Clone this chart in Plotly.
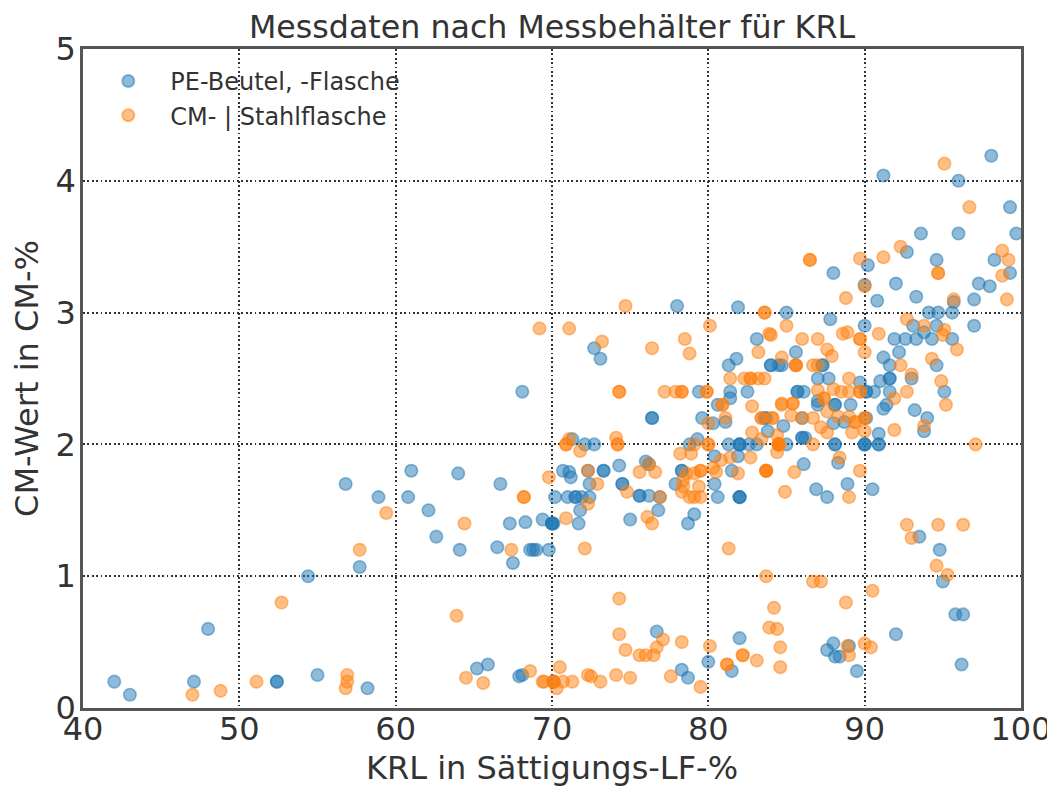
import plotly.graph_objects as go

FONT = "DejaVu Sans, sans-serif"
INK = "#333333"

# PE-Beutel, -Flasche
blue_x = [
    42, 43, 47.1, 48, 52.4, 52.4, 54.4, 55, 56.8, 57.7, 58.2, 58.9, 60.8, 61, 62.1, 62.6, 64, 64.1,
    65.2, 65.9, 66.5, 66.7, 67.3, 67.5, 67.9, 68.1, 68.1, 68.3, 68.6, 68.8, 69, 69.4, 69.8, 70, 70.1,
    78, 81.9, 72.7, 73.1, 83.1, 81.8, 81.3, 84, 84.5, 81.4, 82.5, 79.4, 81.4, 80.6,
    76.4, 76.4, 79.6, 80.3, 81.1, 83.7, 71.3, 72.1, 72.7, 78.8, 79.3, 81.3, 82, 82, 82, 82.6, 83.1,
    80.4, 81.9, 74.3, 76, 76.2, 70.7, 71.1, 71.2, 73.3, 73.3, 72.3, 78.3, 78.3, 81.5,
    74.5, 74.5, 72.4, 77.9, 80.4, 70.2, 71, 71.5, 71.5, 71.9, 72.4, 75.6, 75.6, 76.2, 76.9, 80.6, 82, 82, 82,
    71.8, 76.8, 75, 71.7, 79.1, 78.7, 70, 70,
    98.1, 91.2, 96, 99.3, 93.6, 96, 99.7, 92.7, 94.6, 98.3, 90.2, 88, 99.3, 92, 97.3, 98, 90,
    93.3, 90.8, 97, 95.7, 85, 94.1, 94.7, 95.6, 87.8, 93.1, 94.6, 97, 90,
    91.9, 92.6, 93.3, 94.3, 95.6, 93.8, 85.6, 92.2, 91.2, 84, 84.7, 87.3, 87.3, 91.6, 94.6,
    87, 87.7, 89.7, 91, 91.6, 91.6, 93, 95.1, 85.7, 85.7, 86.1, 87, 87, 88.1, 88.1, 89.1, 90.1, 90.1, 90.6,
    91.6, 91.4, 91.2, 93.2, 94, 93.8, 83.6, 84.8, 83.8, 86, 88, 88.7, 90.1, 90.9, 86, 86, 86.2, 85,
    88.1, 88.1, 90, 90, 90, 90.9, 90.9, 88.3, 86.1, 88.9, 86.9, 87.6, 90.5, 93.5, 94.8,
    76.7, 78.3, 78.7, 80, 81.5, 82, 70.1, 88, 87.6, 88.1, 88.4, 89, 89.5, 92, 95.8, 96.3, 96.2, 95,
]
blue_y = [
    0.2, 0.1, 0.2, 0.6, 0.2, 0.2, 1.0, 0.25, 1.7, 1.07, 0.15, 1.6, 1.6, 1.8, 1.5, 1.3, 1.78, 1.2,
    0.3, 0.33, 1.22, 1.7, 1.4, 1.1, 0.24, 0.25, 2.4, 1.41, 1.2, 1.2, 1.2, 1.43, 1.2, 1.4, 1.4,
    3.05, 3.04, 2.73, 2.65, 2.8, 2.65, 2.6, 2.6, 2.6, 2.4, 2.4, 2.4, 2.35, 2.3,
    2.2, 2.2, 2.2, 2.16, 2.17, 2.2, 2.04, 2, 2, 2, 2.04, 2, 2, 2, 2, 2, 2,
    1.91, 1.91, 1.84, 1.87, 1.85, 1.8, 1.79, 1.75, 1.8, 1.8, 1.8, 1.8, 1.8, 1.8,
    1.7, 1.7, 1.7, 1.7, 1.7, 1.6, 1.6, 1.6, 1.6, 1.6, 1.6, 1.61, 1.61, 1.61, 1.6, 1.6, 1.6, 1.6, 1.6,
    1.5, 1.5, 1.43, 1.4, 1.47, 1.4, 1.4, 1.4,
    4.19, 4.04, 4, 3.8, 3.6, 3.6, 3.6, 3.46, 3.4, 3.4, 3.36, 3.3, 3.3, 3.22, 3.22, 3.2, 3.21,
    3.12, 3.09, 3.1, 3.08, 3, 3, 3, 3, 2.95, 2.9, 2.9, 2.9, 2.9,
    2.8, 2.8, 2.8, 2.8, 2.8, 2.85, 2.7, 2.7, 2.66, 2.6, 2.6, 2.6, 2.6, 2.6, 2.6,
    2.5, 2.5, 2.47, 2.48, 2.5, 2.5, 2.5, 2.4, 2.4, 2.4, 2.4, 2.33, 2.3, 2.3, 2.3, 2.3, 2.4, 2.4, 2.4,
    2.4, 2.3, 2.27, 2.26, 2.2, 2.1, 2.2, 2.14, 2.1, 2.2, 2.16, 2.17, 2.2, 2.08, 2.05, 2.05, 2.05, 2,
    2, 2, 2, 2, 2, 2, 2, 1.86, 1.85, 1.7, 1.66, 1.6, 1.66, 1.3, 1.2,
    0.58, 0.29, 0.23, 0.35, 0.28, 0.53, 0.2, 0.49, 0.44, 0.39, 0.39, 0.47, 0.28, 0.56, 0.71, 0.71, 0.33, 0.96,
]

# CM- | Stahlflasche
orange_x = [
    47, 48.8, 51.1, 52.7, 56.9, 56.9, 56.8, 57.7, 59.4, 63.9, 64.4, 64.5, 65.6, 67.4, 68.2, 68.2, 68.6, 69.2, 69.5, 69.8,
    74.7, 71.1, 73.2, 76.4, 78.5, 78.8, 80.1, 83.6, 84, 83.2, 81.4, 82.3, 82.7, 82.7, 83.2, 83.6,
    74.3, 74.3, 77.2, 77.9, 78.3, 78.3, 79.9, 79.9, 80.9, 80.9, 82.8, 84.7, 81.1, 80, 82.8, 84.1, 84.1, 83.4,
    71.1, 70.9, 70.9, 71.8, 74.1, 74.2, 74.2, 79.1, 80, 80, 84.5, 84.5, 84.5, 78.2, 78.9, 82.7, 81.4, 80.8,
    76.2, 75.6, 76.6, 72.3, 72.9, 79.5, 79.5, 80.3, 80.5, 81.9, 83.7, 83.7,
    78.6, 79.1, 78.4, 78.3, 78.8, 79.5, 79.1, 79.4, 78.4, 74.8, 72.3, 76.9, 76.1, 76.4, 70.9,
    95.1, 96.7, 92.3, 98.8, 99.2, 91.2, 89.7, 86.5, 86.5, 94.7, 94.7, 98.8, 90, 88.8, 95.7, 99.1,
    83.6, 85, 83.9, 92.7, 93.8, 95.1, 95, 86, 87, 88.6, 88.9, 89.7, 89.7, 90.9, 87.6, 87.9, 90, 95.9,
    84.7, 85.6, 85.6, 85.6, 86.7, 87, 92.3, 94.3,
    89, 93, 94.9, 87, 88, 88.5, 89, 89.7, 89.7, 92.7, 91.9, 95.2, 84.7, 85.4, 85.4, 87.4, 87.4, 87.6,
    83.4, 83.4, 85.3, 86, 86.7, 88.3, 89, 89.4, 89.4, 90, 90, 87.2, 87.6, 89.2, 90, 91.9, 93.8,
    84.4, 84.5, 84.5, 84.5, 84.4, 86.7, 88.4, 85.5, 83.7, 83.7, 89.7, 84.9, 89, 92.7, 94.7, 96.3, 93, 97.1,
    72.1, 81.3, 83.7, 86.7, 87.2, 94.6, 95.3, 90.5, 88.8, 74.3, 74.3, 84.2, 83.9, 84.4, 84.6, 84.6,
    77.1, 78.3, 76.7, 74.7, 75.6, 76, 76.5, 80.1, 82.2, 82.2, 83.1, 81.2, 90, 90.4, 89, 88.9,
    70.5, 69.4, 70.1, 70.1, 70.1, 70.3, 70.7, 71.3, 72.3, 72.5, 73.1, 74.1, 75, 77.6, 79.5, 81.2,
]
orange_y = [
    0.1, 0.13, 0.2, 0.8, 0.25, 0.2, 0.15, 1.2, 1.48, 0.7, 1.4, 0.23, 0.19, 1.2, 1.6, 1.6, 0.28, 2.88, 0.2, 1.75,
    3.05, 2.88, 2.78, 2.73, 2.8, 2.69, 2.9, 3, 2.83, 2.7, 2.5, 2.5, 2.5, 2.5, 2.5, 2.5,
    2.4, 2.4, 2.4, 2.4, 2.4, 2.4, 2.4, 2.4, 2.3, 2.3, 2.29, 2.3, 2.2, 2.16, 2.09, 2.2, 2.2, 2.04,
    2.04, 2, 2, 1.95, 2.05, 2, 2, 2, 2, 2, 2, 2, 2, 1.93, 1.93, 1.9, 1.9, 1.88,
    1.85, 1.79, 1.79, 1.8, 1.7, 1.8, 1.8, 1.82, 1.79, 1.78, 1.8, 1.8,
    1.78, 1.78, 1.73, 1.64, 1.6, 1.6, 1.6, 1.68, 1.68, 1.64, 1.55, 1.6, 1.45, 1.4, 1.44,
    4.13, 3.8, 3.5, 3.47, 3.4, 3.42, 3.41, 3.4, 3.4, 3.3, 3.3, 3.28, 3.2, 3.11, 3.1, 3.1,
    3, 2.9, 2.84, 2.95, 2.9, 2.87, 2.83, 2.8, 2.8, 2.84, 2.85, 2.8, 2.8, 2.84, 2.72, 2.67, 2.7, 2.72,
    2.66, 2.6, 2.6, 2.6, 2.6, 2.6, 2.6, 2.65,
    2.5, 2.53, 2.48, 2.41, 2.42, 2.4, 2.4, 2.4, 2.4, 2.4, 2.35, 2.3, 2.31, 2.31, 2.31, 2.35, 2.35, 2.25,
    2.2, 2.2, 2.22, 2.2, 2.2, 2.21, 2.21, 2.17, 2.17, 2.2, 2.2, 2.13, 2.09, 2.09, 2.1, 2.11, 2.14,
    2.07, 2, 2, 2, 1.94, 2, 1.9, 1.79, 1.8, 1.8, 1.8, 1.64, 1.6, 1.39, 1.39, 1.39, 1.29, 2,
    1.21, 1.21, 1, 0.96, 0.96, 1.08, 1.01, 0.89, 0.8, 0.83, 0.56, 0.76, 0.61, 0.6, 0.46, 0.31,
    0.52, 0.5, 0.46, 0.44, 0.4, 0.4, 0.4, 0.47, 0.4, 0.4, 0.36, 0.33, 0.49, 0.46, 0.4, 0.47,
    0.31, 0.2, 0.2, 0.2, 0.2, 0.15, 0.2, 0.2, 0.25, 0.24, 0.2, 0.25, 0.23, 0.24, 0.16, 0.33,
]

x_ticks = [40, 50, 60, 70, 80, 90, 100]
y_ticks = [0, 1, 2, 3, 4, 5]


def _marker(rgb: str) -> dict:
    return {"size": 12.5, "color": f"rgba({rgb},0.5)", "line": {"color": f"rgba({rgb},0.5)", "width": 1.6}}


fig = go.Figure()
fig.add_trace(
    go.Scatter(x=blue_x, y=blue_y, mode="markers", name="PE-Beutel, -Flasche", marker=_marker("31,119,180"))
)
fig.add_trace(
    go.Scatter(x=orange_x, y=orange_y, mode="markers", name="CM- | Stahlflasche", marker=_marker("255,127,14"))
)

axis_style = {
    "showgrid": True,
    "gridcolor": "#333333",
    "gridwidth": 1.7,
    "griddash": "1.7px,2.7px",
    "zeroline": False,
    "showline": True,
    "linecolor": "#555555",
    "linewidth": 2.5,
    "mirror": True,
    "ticks": "",
    "tickfont": {"size": 32, "color": INK},
}

# the page body has an 8px margin, so the figure sits 8px in from the window corner
fig.update_layout(
    width=1047,
    height=781,
    paper_bgcolor="white",
    plot_bgcolor="white",
    font={"family": FONT, "color": INK},
    margin={"l": 74.5, "r": 34.3, "t": 41, "b": 81, "autoexpand": False},
    title={
        "text": "Messdaten nach Messbehälter für KRL",
        "font": {"size": 31.7, "color": INK},
        "x": 544 / 1047,
        "xanchor": "center",
        "y": 1 - 19 / 781,
        "yanchor": "middle",
    },
    legend={
        "x": 0.0035,
        "y": 0.985,
        "xanchor": "left",
        "yanchor": "top",
        "bgcolor": "rgba(0,0,0,0)",
        "font": {"size": 24, "color": INK},
        "itemsizing": "constant",
        "itemwidth": 74,
        "tracegroupgap": 0,
    },
)
fig.update_xaxes(
    range=[40, 100],
    tickvals=x_ticks,
    ticklabelstandoff=-9,
    title={"text": "KRL in Sättigungs-LF-%", "font": {"size": 32, "color": INK}, "standoff": 10},
    **axis_style,
)
fig.update_yaxes(
    range=[0, 5],
    tickvals=y_ticks,
    ticklabelstandoff=-2,
    title={"text": "CM-Wert in CM-%", "font": {"size": 32, "color": INK}, "standoff": 14},
    **axis_style,
)

fig.write_html("out.html")
